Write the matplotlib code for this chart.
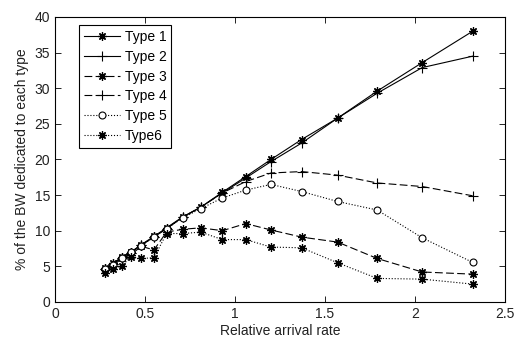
import numpy as np
import matplotlib
matplotlib.use('Agg')
import matplotlib.pyplot as plt

# relative arrival rate, shared by all six series
arrival = [0.28, 0.32, 0.37, 0.42, 0.48, 0.55, 0.62, 0.71, 0.81, 0.93,
           1.06, 1.20, 1.37, 1.57, 1.79, 2.04, 2.32]

type1 = [4.7, 5.4, 6.25, 6.95, 8.05, 9.2, 10.4, 11.95, 13.3, 15.4,
         17.6, 20.0, 22.8, 25.8, 29.6, 33.6, 38.0]
type2 = [4.6, 5.3, 6.2, 6.9, 8.0, 9.1, 10.3, 11.9, 13.3, 15.3,
         17.4, 19.7, 22.3, 25.8, 29.3, 32.9, 34.5]
type3 = [4.5, 5.0, 6.1, 6.6, 7.8, 7.3, 9.8, 10.2, 10.4, 10.0,
         11.0, 10.1, 9.1, 8.4, 6.1, 4.2, 3.9]
type4 = [4.6, 5.3, 6.2, 6.9, 8.0, 9.1, 10.3, 11.9, 13.3, 15.3,
         16.9, 18.1, 18.3, 17.8, 16.7, 16.2, 14.9]
type5 = [4.6, 5.2, 6.1, 7.0, 7.9, 9.1, 10.3, 11.8, 13.1, 14.6,
         15.7, 16.5, 15.5, 14.1, 12.9, 9.0, 5.55]
type6 = [4.0, 4.6, 5.0, 6.3, 6.1, 6.2, 9.6, 9.6, 9.8, 8.75,
         8.75, 7.7, 7.6, 5.5, 3.3, 3.2, 2.5]

plt.rcParams['font.family'] = ['Liberation Sans', 'DejaVu Sans']

star = (8, 2, 0)  # matlab style asterisk

fig = plt.figure(figsize=(5.18, 3.4), dpi=100)
ax = fig.add_axes([0.106, 0.112, 0.869, 0.838])

ax.plot(arrival, type1, '-', color='k', lw=0.8, marker=star, ms=6, mew=0.9, label='Type 1')
ax.plot(arrival, type2, '-', color='k', lw=0.8, marker='+', ms=7, mew=0.8, label='Type 2')
ax.plot(arrival, type3, '--', color='k', lw=0.8, marker=star, ms=6, mew=0.9,
        dashes=(7, 3), label='Type 3')
ax.plot(arrival, type4, '--', color='k', lw=0.8, marker='+', ms=7, mew=0.8,
        dashes=(7, 3), label='Type 4')
ax.plot(arrival, type5, ':', color='k', lw=0.8, marker='o', ms=5, mew=0.8,
        mfc='white', label='Type 5')
ax.plot(arrival, type6, ':', color='k', lw=0.8, marker=star, ms=6, mew=0.9, label='Type6')

ax.set_xlim(0, 2.5)
ax.set_ylim(0, 40)
ax.set_xticks(np.arange(0, 2.51, 0.5))
ax.set_xticklabels(['0', '0.5', '1', '1.5', '2', '2.5'])
ax.set_yticks(np.arange(0, 41, 5))
ax.tick_params(direction='in', top=True, right=True, labelsize=10, length=4, width=0.6,
               labelcolor='#222222')
for s in ax.spines.values():
    s.set_linewidth(0.8)

ax.set_xlabel('Relative arrival rate', fontsize=10, labelpad=2, color='#222222')
ax.set_ylabel('% of the BW dedicated to each type', fontsize=10, labelpad=4, color='#222222')

leg = ax.legend(loc='upper left', bbox_to_anchor=(0.053, 0.972), borderaxespad=0,
                fontsize=10, frameon=True, fancybox=False, edgecolor='k', framealpha=1,
                handlelength=2.6, handletextpad=0.35, labelspacing=0.42,
                borderpad=0.35)
leg.get_frame().set_linewidth(0.8)

fig.savefig('out.png', dpi=100)
